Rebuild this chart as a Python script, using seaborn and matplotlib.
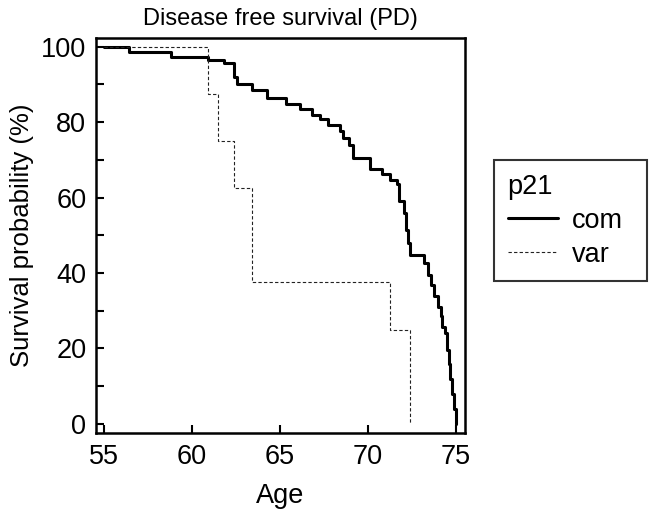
import pandas as pd
import matplotlib.pyplot as plt
import seaborn as sns

# Kaplan-Meier curves
com_age = [55.0, 56.4, 58.8, 60.9, 61.8, 62.4, 62.55, 63.4, 64.25, 65.35, 66.15,
           66.85, 67.3, 67.75, 68.4, 68.6, 68.95, 69.15, 70.13, 70.8, 71.27,
           71.65, 71.75, 72.05, 72.2, 72.3, 72.41, 73.2, 73.45, 73.6, 73.75,
           74.0, 74.15, 74.2, 74.4, 74.5, 74.6, 74.7, 74.8, 74.9, 75.0]
com_surv = [100, 98.6, 97.3, 96.5, 95.6, 92.0, 90.2, 88.6, 86.3, 84.7, 83.5,
            82.0, 80.7, 79.3, 77.6, 75.9, 74.0, 70.6, 67.6, 66.2, 64.6,
            63.5, 59.0, 56.0, 51.5, 48.0, 44.7, 42.6, 39.5, 36.8, 34.0,
            31.0, 28.5, 25.7, 24.0, 19.6, 16.0, 12.0, 8.0, 4.0, 0]

var_age = [55.0, 60.92, 61.49, 62.39, 63.39, 71.27, 72.41]
var_surv = [100, 87.5, 75, 62.5, 37.5, 25, 0]

groups = ['com', 'var']

df = pd.concat([
    pd.DataFrame({'Age': com_age, 'surv': com_surv, 'p21': 'com'}),
    pd.DataFrame({'Age': var_age, 'surv': var_surv, 'p21': 'var'}),
], ignore_index=True)

sns.set_style('ticks')
plt.rcParams['font.family'] = ['Liberation Sans', 'DejaVu Sans']
plt.rcParams['text.color'] = 'black'
plt.rcParams['axes.labelcolor'] = 'black'

fig = plt.figure(figsize=(6.52, 5.19), dpi=100)
ax = fig.add_axes([96 / 652, 1 - 433 / 519, 369 / 652, 395 / 519])

sns.lineplot(data=df, x='Age', y='surv', hue='p21', style='p21', size='p21',
             hue_order=groups, style_order=groups, size_order=groups,
             palette={'com': 'black', 'var': '#222222'},
             dashes={'com': '', 'var': (3, 2)},
             sizes={'com': 2.2, 'var': 0.8},
             estimator=None, sort=False, drawstyle='steps-post', ax=ax)

ax.set_xlim(54.53, 75.53)
ax.set_ylim(-2.4, 102.3)
ax.set_xticks([55, 60, 65, 70, 75])
ax.set_yticks([0, 20, 40, 60, 80, 100])
ax.set_yticks([10, 30, 50, 70, 90], minor=True)
ax.tick_params(axis='both', which='both', direction='in', length=6, width=1.5,
               labelsize=19.5, colors='black')
ax.tick_params(axis='y', pad=7)
ax.tick_params(axis='x', pad=8)
for s in ax.spines.values():
    s.set_linewidth(1.8)
    s.set_color('black')

ax.set_xlabel('Age', fontsize=19.5, labelpad=9)
ax.set_ylabel('Survival probability (%)', fontsize=18.5, labelpad=5)
ax.set_title('Disease free survival (PD)', fontsize=17, pad=9)

sns.move_legend(ax, 'upper left',
                bbox_to_anchor=(494 / 652, 1 - 279 / 519, 153 / 652, 119 / 519),
                bbox_transform=fig.transFigure, mode='expand', frameon=True,
                fancybox=False, edgecolor='black', fontsize=19.5, title='p21',
                title_fontsize=19.5, handlelength=1.85, handletextpad=0.52,
                alignment='left', borderaxespad=0, borderpad=0.5,
                labelspacing=0.3)
ax.get_legend().get_frame().set_linewidth(1.5)

fig.savefig('out.png', dpi=100)
